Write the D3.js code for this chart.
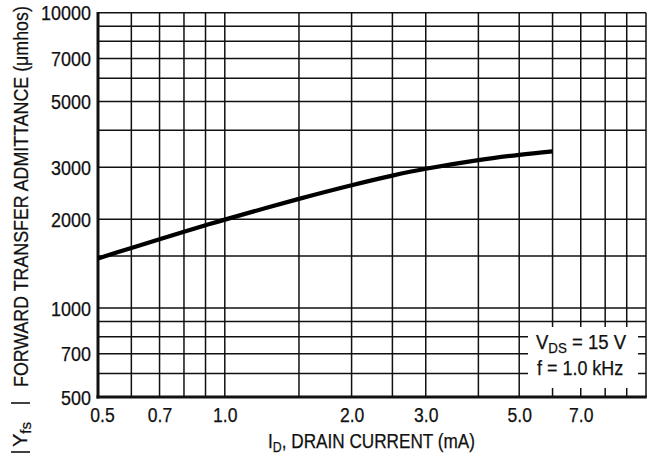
<!DOCTYPE html>
<html>
<head>
<meta charset="utf-8">
<script src="https://cdn.jsdelivr.net/npm/d3@7"></script>
<style>
  html, body { margin: 0; padding: 0; background: #fff; }
  svg { display: block; }
  text { font-family: "Liberation Sans", Arial, Helvetica, sans-serif; fill: #111; stroke: #111; stroke-width: 0.25px; }
</style>
</head>
<body>
<svg id="chart" width="653" height="461"></svg>
<script>
// ---- data ----
const currentMA  = [0.5, 0.6, 0.7, 0.8, 0.9, 1.0, 1.5, 2.0, 2.5, 3.0, 4.0, 5.0, 6.0];
const admittance = [1472, 1598, 1710, 1812, 1906, 1993, 2343, 2606, 2809, 2962, 3170, 3303, 3394];

const xTickValues = [0.5, 0.7, 1, 2, 3, 5, 7];
const xTickLabels = ["0.5", "0.7", "1.0", "2.0", "3.0", "5.0", "7.0"];
const yTickValues = [500, 700, 1000, 2000, 3000, 5000, 7000, 10000];
const yTickLabels = ["500", "700", "1000", "2000", "3000", "5000", "7000", "10000"];

const xGrid = [0.5, 0.6, 0.7, 0.8, 0.9, 1, 1.5, 2, 2.5, 3, 4, 5, 6, 7, 8, 9, 10];
const yGrid = [500, 600, 700, 800, 900, 1000, 1500, 2000, 3000, 4000, 5000, 6000, 7000, 8000, 9000, 10000];

const xDomain = [0.5, 10];
const yDomain = [500, 10000];

// ---- layout ----
const svg = d3.select("#chart");
const L = 98, R = 646, T = 12.7, B = 397;
const FS = 19.5;

const x = d3.scaleLog().domain(xDomain).range([L, R]);
const y = d3.scaleLog().domain(yDomain).range([B, T]);

function condense(sel, f) {
  sel.each(function () {
    const len = this.getComputedTextLength();
    d3.select(this).attr("textLength", len * f).attr("lengthAdjust", "spacingAndGlyphs");
  });
}

// grid
const grid = svg.append("g").attr("stroke", "#111").attr("stroke-width", 1.5).attr("fill", "none");
grid.selectAll("line.v").data(xGrid).join("line")
  .attr("x1", d => x(d)).attr("x2", d => x(d))
  .attr("y1", T).attr("y2", B);
grid.selectAll("line.h").data(yGrid).join("line")
  .attr("y1", d => y(d)).attr("y2", d => y(d))
  .attr("x1", L).attr("x2", R);

// legend box (white background covering grid)
svg.append("rect")
  .attr("x", 528).attr("y", 327).attr("width", 110).attr("height", 61)
  .attr("fill", "#fff");

const legend = svg.append("g").style("font-size", FS + "px");
const l1 = legend.append("text").attr("x", 536).attr("y", 349);
l1.append("tspan").text("V");
l1.append("tspan").attr("dy", 4).style("font-size", "14px").text("DS");
l1.append("tspan").attr("dy", -4).text(" = 15 V");
condense(l1, 0.95);
const l2 = legend.append("text").attr("x", 537).attr("y", 375).text("f = 1.0 kHz");
condense(l2, 0.92);

// axes (thick left/bottom)
svg.append("line").attr("x1", L).attr("x2", L).attr("y1", T - 0.8).attr("y2", B + 1.5)
  .attr("stroke", "#111").attr("stroke-width", 3);
svg.append("line").attr("x1", L - 1.5).attr("x2", R + 0.8).attr("y1", B).attr("y2", B)
  .attr("stroke", "#111").attr("stroke-width", 3);

// curve
const pts = currentMA.map((c, i) => [x(c), y(admittance[i])]);
svg.append("path")
  .attr("d", d3.line().curve(d3.curveCatmullRom.alpha(0.5))(pts))
  .attr("fill", "none").attr("stroke", "#000").attr("stroke-width", 4.2)
  .attr("stroke-linecap", "butt");

// x axis labels via d3 axis
const xAxis = d3.axisBottom(x).tickValues(xTickValues)
  .tickFormat((d, i) => xTickLabels[i]).tickSize(0).tickPadding(0);
const gx = svg.append("g").attr("transform", `translate(0,${B})`).call(xAxis);
gx.select(".domain").remove();
gx.selectAll("text")
  .attr("y", 24.5).attr("dy", 0)
  .attr("dx", d => d === 0.5 ? 4 : 0)
  .style("font-size", FS + "px").style("font-family", null).attr("fill", "#111");
condense(gx.selectAll("text"), 0.9);

// y axis labels
const yAxis = d3.axisLeft(y).tickValues(yTickValues)
  .tickFormat((d, i) => yTickLabels[i]).tickSize(0).tickPadding(0);
const gy = svg.append("g").attr("transform", `translate(91,0)`).call(yAxis);
gy.select(".domain").remove();
gy.selectAll("text")
  .attr("x", 0).attr("dy", "0.36em")
  .style("font-size", FS + "px").style("font-family", null).attr("fill", "#111");
condense(gy.selectAll("text"), 0.92);

// x title
const xt = svg.append("text").attr("x", 371.5).attr("y", 448).attr("text-anchor", "middle")
  .style("font-size", FS + "px");
xt.append("tspan").text("I");
xt.append("tspan").attr("dy", 4).style("font-size", "14px").text("D");
xt.append("tspan").attr("dy", -4).text(", DRAIN CURRENT (mA)");
xt.attr("textLength", 207).attr("lengthAdjust", "spacingAndGlyphs");

// y title: |Y_fs| with drawn bars
svg.append("line").attr("x1", 11).attr("x2", 30).attr("y1", 452).attr("y2", 452)
  .attr("stroke", "#111").attr("stroke-width", 1.6);
svg.append("line").attr("x1", 11).attr("x2", 30).attr("y1", 403).attr("y2", 403)
  .attr("stroke", "#111").attr("stroke-width", 1.6);
const yt1 = svg.append("text").attr("transform", "translate(27,447) rotate(-90)")
  .style("font-size", "20px");
yt1.append("tspan").text("Y");
yt1.append("tspan").attr("dy", 4).style("font-size", "15px").text("fs");

const yt2 = svg.append("text")
  .style("font-size", "20px")
  .text("FORWARD TRANSFER ADMITTANCE (\u03bcmhos)");
const yt2Len = yt2.node().getComputedTextLength();
yt2.attr("transform", `translate(28,387) rotate(-90) scale(${381 / yt2Len},1)`);
</script>
</body>
</html>
